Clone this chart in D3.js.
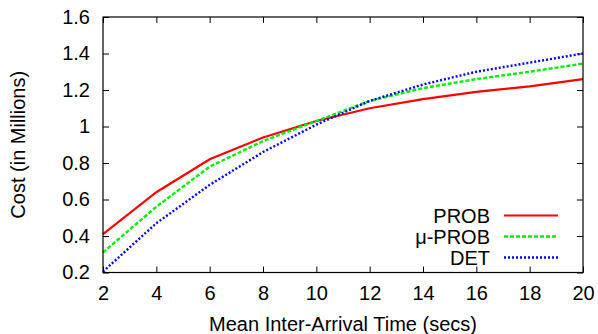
<!DOCTYPE html>
<html>
<head>
<meta charset="utf-8">
<script src="https://cdn.jsdelivr.net/npm/d3@7"></script>
<style>
  body { margin: 0; background: #fff; }
  svg text { font-family: "Liberation Sans", Arial, sans-serif; fill: #000; }
</style>
</head>
<body>
<div id="chart"></div>
<script>
// inter-arrival times (secs)
var xs = [2, 4, 6, 8, 10, 12, 14, 16, 18, 20];
var prob = [0.41, 0.64, 0.82, 0.94, 1.03, 1.10, 1.15, 1.19, 1.22, 1.26];
var muProb = [0.31, 0.56, 0.78, 0.92, 1.03, 1.14, 1.21, 1.26, 1.30, 1.345];
var det = [0.205, 0.47, 0.68, 0.86, 1.01, 1.14, 1.23, 1.30, 1.35, 1.40];
var xTicks = [2, 4, 6, 8, 10, 12, 14, 16, 18, 20];
var yTicks = [0.2, 0.4, 0.6, 0.8, 1, 1.2, 1.4, 1.6];

var series = [
    {name: 'PROB', values: prob, color: '#ff0000', dash: null},
    {name: '\u03bc-PROB', values: muProb, color: '#00ee00', dash: '4,2'},
    {name: 'DET', values: det, color: '#0000ff', dash: '2,2'}
];

var width = 598, height = 334;
var plotL = 103, plotR = 583, plotT = 17, plotB = 272.5;
var fontSize = '20px';

var svg = d3.select('#chart').append('svg').attr('width', width).attr('height', height);

var x = d3.scaleLinear().domain([2, 20]).range([plotL, plotR]);
var y = d3.scaleLinear().domain([0.2, 1.6]).range([plotB, plotT]);

// ticks inward on all four sides (mirrored)
var tickLen = 6;
var fmt = function(d) { return String(+d.toFixed(1)); };

svg.append('g').attr('transform', 'translate(0,' + plotB + ')')
    .call(d3.axisBottom(x).tickValues(xTicks).tickSize(-tickLen).tickPadding(13).tickFormat(d3.format('d')))
    .call(function(g) { g.select('.domain').remove(); });
svg.append('g').attr('transform', 'translate(0,' + plotT + ')')
    .call(d3.axisTop(x).tickValues(xTicks).tickSize(-tickLen).tickFormat(''))
    .call(function(g) { g.select('.domain').remove(); });
svg.append('g').attr('transform', 'translate(' + plotL + ',0)')
    .call(d3.axisLeft(y).tickValues(yTicks).tickSize(-tickLen).tickPadding(13).tickFormat(fmt))
    .call(function(g) { g.select('.domain').remove(); });
svg.append('g').attr('transform', 'translate(' + plotR + ',0)')
    .call(d3.axisRight(y).tickValues(yTicks).tickSize(-tickLen).tickFormat(''))
    .call(function(g) { g.select('.domain').remove(); });

svg.selectAll('.tick line').attr('stroke', '#000').attr('stroke-width', 1);
svg.selectAll('.tick text').style('font-size', fontSize).style('font-family', '"Liberation Sans", Arial, sans-serif');

var line = d3.line()
    .x(function(d, i) { return x(xs[i]); })
    .y(function(d) { return y(d); });

svg.append('g').selectAll('path.series').data(series).enter().append('path')
    .attr('class', 'series')
    .attr('d', function(s) { return line(s.values); })
    .attr('fill', 'none')
    .attr('stroke', function(s) { return s.color; })
    .attr('stroke-width', function(s) { return s.dash ? 2.4 : 2.2; })
    .attr('stroke-dasharray', function(s) { return s.dash; });

// frame
svg.append('rect').attr('x', plotL).attr('y', plotT).attr('width', plotR - plotL).attr('height', plotB - plotT)
    .attr('fill', 'none').attr('stroke', '#000').attr('stroke-width', 1.2);

// legend
var leg = svg.append('g').selectAll('g.legend').data(series).enter().append('g').attr('class', 'legend')
    .attr('transform', function(s, i) { return 'translate(0,' + (215.5 + i * 21) + ')'; });
leg.append('text').attr('x', 490).attr('y', 7).style('text-anchor', 'end').style('font-size', fontSize)
    .text(function(s) { return s.name; });
leg.append('line').attr('x1', 504).attr('x2', 558).attr('y1', 0).attr('y2', 0)
    .attr('stroke', function(s) { return s.color; })
    .attr('stroke-width', function(s) { return s.dash ? 2.4 : 2.2; })
    .attr('stroke-dasharray', function(s) { return s.dash; });

// axis titles
svg.append('text').attr('x', (plotL + plotR) / 2).attr('y', 331).style('text-anchor', 'middle').style('font-size', fontSize)
    .text('Mean Inter-Arrival Time (secs)');
svg.append('text').attr('transform', 'translate(25,' + ((plotT + plotB) / 2) + ') rotate(-90)')
    .style('text-anchor', 'middle').style('font-size', fontSize)
    .text('Cost (in Millions)');
</script>
</body>
</html>
